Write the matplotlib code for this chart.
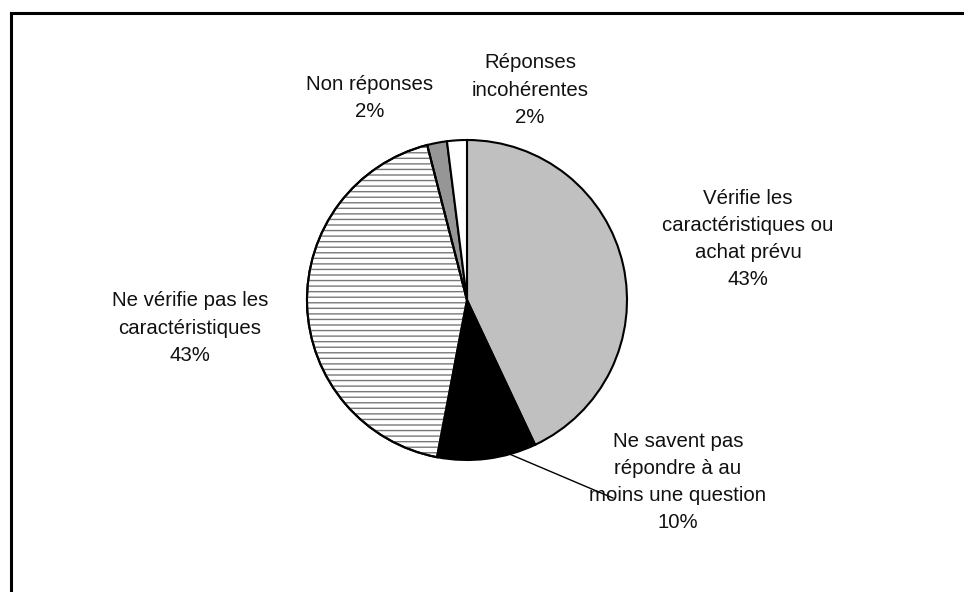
import matplotlib
matplotlib.use("Agg")
import matplotlib.pyplot as plt
from matplotlib.patches import Wedge
from matplotlib.lines import Line2D

plt.rcParams['font.family'] = ['Liberation Sans', 'DejaVu Sans']
plt.rcParams['hatch.linewidth'] = 1.0

labels = ["Vérifie les\ncaractéristiques ou\nachat prévu",
          "Ne savent pas\nrépondre à au\nmoins une question",
          "Ne vérifie pas les\ncaractéristiques",
          "Non réponses",
          "Réponses\nincohérentes"]
shares = [43, 10, 43, 2, 2]
colors = ['#c0c0c0', '#000000', '#ffffff', '#969696', '#ffffff']
hatches = [None, None, '---', None, None]

# label centres in pixel space (origin top-left)
label_pos = [(748, 239), (678, 482), (190, 328), (370, 98), (530, 90)]

W, H = 964, 592
fig = plt.figure(figsize=(W / 100, H / 100), dpi=100)
ax = fig.add_axes([0, 0, 1, 1])

cx, cy, r = 467, H - 300, 160
wedges, _ = ax.pie(shares, colors=colors, startangle=90, counterclock=False,
                   center=(cx, cy), radius=r,
                   wedgeprops=dict(edgecolor='black', linewidth=1.5))

# horizontal grey hatching drawn under the black outline
for w, h in zip(wedges, hatches):
    if h:
        hw = Wedge(w.center, w.r, w.theta1, w.theta2, facecolor='none',
                   edgecolor='#787878', hatch=h, linewidth=0, zorder=w.get_zorder() + 0.1)
        ax.add_patch(hw)
        ol = Wedge(w.center, w.r, w.theta1, w.theta2, facecolor='none',
                   edgecolor='black', linewidth=1.5, zorder=w.get_zorder() + 0.2)
        ax.add_patch(ol)

for lab, pct, (x, y) in zip(labels, shares, label_pos):
    ax.text(x, H - y, f"{lab}\n{pct}%", ha='center', va='center',
            fontsize=14.7, linespacing=1.54, color='#111111')

# leader line for the small black slice label
ax.plot([507, 613], [H - 453, H - 498], color='black', lw=1.0)

ax.set_xlim(0, W)
ax.set_ylim(0, H)
ax.set_aspect('equal')
ax.axis('off')

# outer frame (left and top edges)
fig.add_artist(Line2D([10.5 / W, 10.5 / W], [0, 1 - 13 / H], color='black', lw=2.2,
                      transform=fig.transFigure, solid_capstyle='projecting'))
fig.add_artist(Line2D([10.5 / W, 1], [1 - 13 / H, 1 - 13 / H], color='black', lw=2.2,
                      transform=fig.transFigure, solid_capstyle='projecting'))

fig.savefig('out.png', dpi=100)
